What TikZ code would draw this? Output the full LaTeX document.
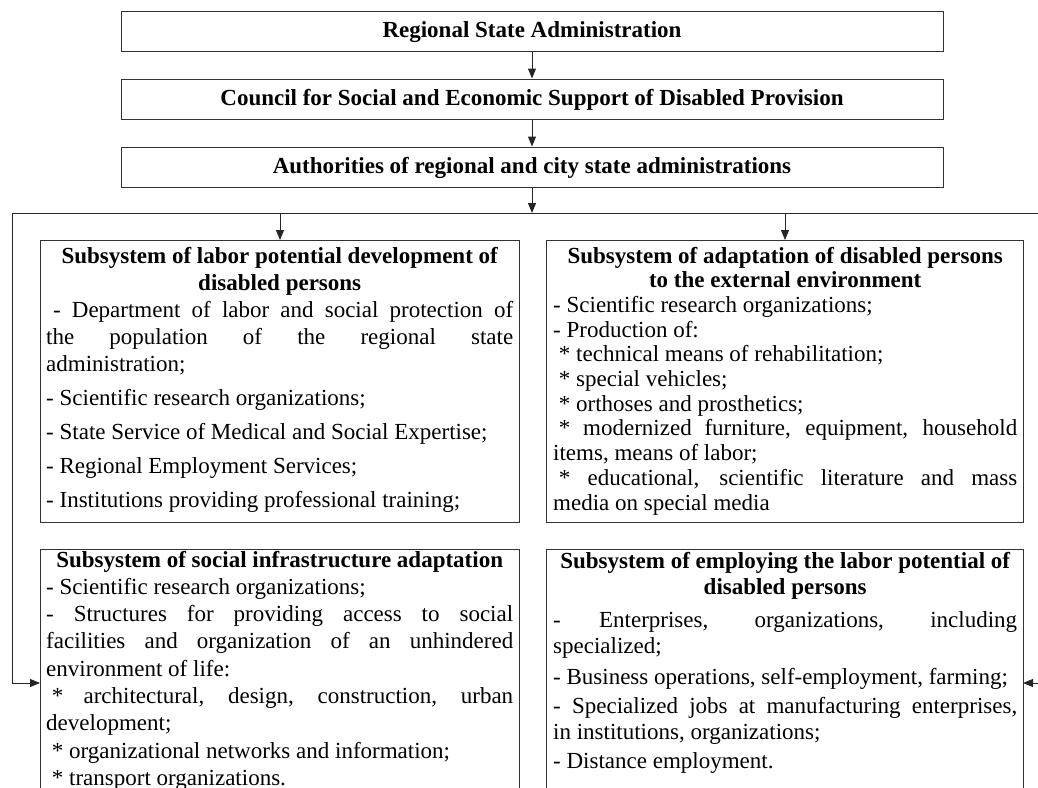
\documentclass[tikz,border=0pt]{standalone}
\usepackage{fontspec}
\setmainfont{Liberation Serif}
\usetikzlibrary{arrows.meta}
\newcommand{\jl}[1]{\makebox[\linewidth][s]{\spaceskip=0pt\xspaceskip=0pt\relax #1}}
\newcommand{\hl}[1]{\makebox[\linewidth][c]{\bfseries #1}}
\newcommand{\ns}{\spaceskip=0pt\xspaceskip=0pt\relax}
\begin{document}
\begin{tikzpicture}[x=1pt,y=-1pt,
  topbox/.style={draw=black!80, line width=1pt, minimum width=822pt, minimum height=40pt, inner sep=0pt, text height=17pt, text depth=5pt, font=\fontsize{23}{26}\selectfont\bfseries},
  panel/.style={draw=black!80, line width=1pt, inner sep=0pt, anchor=north west},
  body/.style={anchor=base west, inner sep=0pt, align=left},
  arr/.style={line width=1pt, draw=black!85, -{Triangle[length=10pt,width=8pt]}},
  conn/.style={line width=1pt, draw=black!85}]
\useasboundingbox (0,0) rectangle (1038,787);
\clip (0,0) rectangle (1038,787);
\fill[white] (0,0) rectangle (1038,787);
% top chain
\node[topbox] (ra) at (532,31) {Regional State Administration};
\node[topbox] (csp) at (532,99) {Council for Social and Economic Support of Disabled Provision};
\node[topbox] (auth) at (532,167) {Authorities of regional and city state administrations};
% panels
\node[panel, minimum width=479pt, minimum height=282pt] (A) at (40,240) {};
\node[panel, minimum width=477pt, minimum height=282pt] (B) at (546,240) {};
\node[panel, minimum width=479pt, minimum height=300pt] (C) at (40,549) {};
\node[panel, minimum width=477pt, minimum height=300pt] (D) at (546,549) {};
% panel texts
\node[body, text width=467pt, font=\fontsize{23}{27}\selectfont] (At) at (46,263) {\ns
\hl{Subsystem of labor potential development of}\\
\hl{disabled persons}\\
\jl{\hspace*{0.3em}- Department of labor and social protection of}\\
\jl{the population of the regional state}\\
administration;\\[7pt]
- Scientific research organizations;\\[7pt]
- State Service of Medical and Social Expertise;\\[7pt]
- Regional Employment Services;\\[7pt]
- Institutions providing professional training;};
\node[body, text width=464pt, font=\fontsize{23}{24.7}\selectfont] (Bt) at (553,263) {\ns
\hl{Subsystem of adaptation of disabled persons}\\
\hl{to the external environment}\\
- Scientific research organizations;\\
- Production of:\\
\hspace*{0.25em}* technical means of rehabilitation;\\
\hspace*{0.25em}* special vehicles;\\
\hspace*{0.25em}* orthoses and prosthetics;\\
\jl{\hspace*{0.25em}* modernized furniture, equipment, household}\\
items, means of labor;\\
\jl{\hspace*{0.25em}* educational, scientific literature and mass}\\
media on special media};
\node[body, text width=467pt, font=\fontsize{23}{27.3}\selectfont] (Ct) at (46,567) {\ns
\hl{Subsystem of social infrastructure adaptation}\\
- Scientific research organizations;\\
\jl{- Structures for providing access to social}\\
\jl{facilities and organization of an unhindered}\\
environment of life:\\
\jl{\hspace*{0.25em}* architectural, design, construction, urban}\\
development;\\
\hspace*{0.25em}* organizational networks and information;\\
\hspace*{0.25em}* transport organizations.};
\node[body, text width=464pt, font=\fontsize{23}{26}\selectfont] (Dt) at (553,568) {\ns
\hl{Subsystem of employing the labor potential of}\\
\hl{disabled persons}\\[7pt]
\jl{- Enterprises, organizations, including}\\
specialized;\\[5pt]
- Business operations, self-employment, farming;\\[3pt]
\jl{- Specialized jobs at manufacturing enterprises,}\\
in institutions, organizations;\\[3pt]
- Distance employment.};
% connectors
\coordinate (hub) at (532,213);
\coordinate (lft) at (12,213);
\coordinate (rgt) at (1041,213);
\coordinate (cin) at (40,683);
\coordinate (din) at (1023,683);
\draw[arr] (ra) -- (csp);
\draw[arr] (csp) -- (auth);
\draw[arr] (auth) -- (hub);
\draw[conn] (lft) -- (rgt);
\draw[arr] (A.north |- hub) -- (A.north);
\draw[arr] (B.north |- hub) -- (B.north);
\draw[arr] (lft) |- (cin);
\draw[arr] (rgt) |- (din);
\end{tikzpicture}
\end{document}
